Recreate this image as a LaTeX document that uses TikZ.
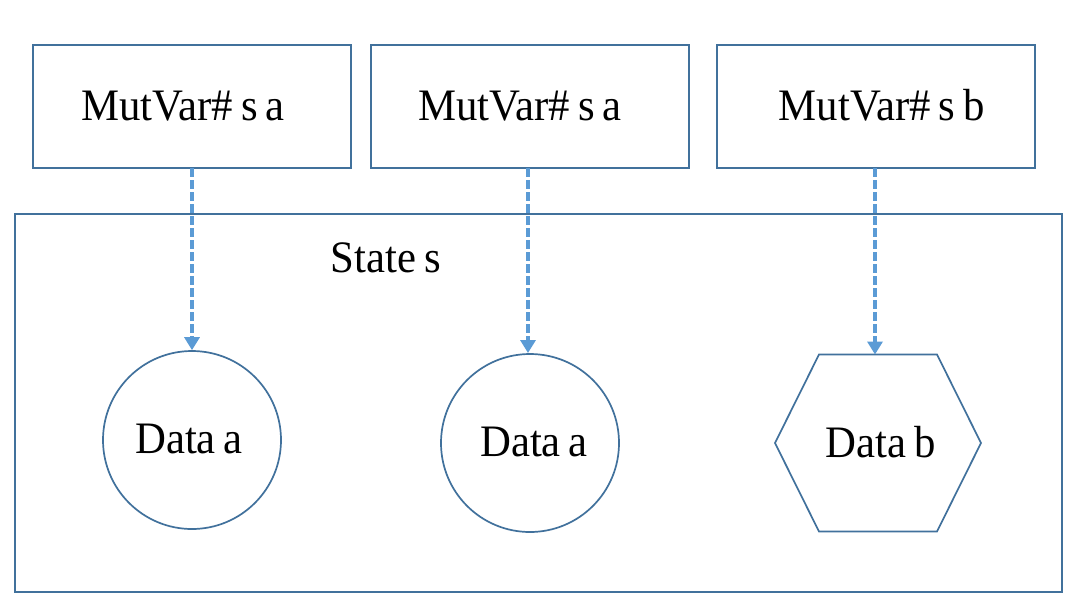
\documentclass[tikz,border=0pt]{standalone}
\usepackage{fontspec}
\setmainfont{Liberation Serif}
\newfontfamily\condfont[FakeStretch=0.95,WordSpace=0.75]{Liberation Serif}
\usetikzlibrary{arrows.meta,shapes.geometric}
\definecolor{boxblue}{HTML}{41719C}
\definecolor{arrblue}{HTML}{5B9BD5}
\tikzset{
  shp/.style={draw=boxblue,line width=1.7pt,fill=white,inner sep=0pt},
  lbl/.style={font=\condfont\fontsize{45}{45}\selectfont,inner sep=0pt,anchor=base},
  link/.style={draw=arrblue,line width=4pt,dash pattern=on 9pt off 3pt,
    -{Triangle[width=15pt,length=13pt]}}
}
\begin{document}
\begin{tikzpicture}[x=1pt,y=-1pt]
\useasboundingbox (0,0) rectangle (1074,606);
% outer state box
\node[shp,minimum width=1047pt,minimum height=378pt] (state) at (538.5,403) {};
\node[lbl] (statelbl) at (386,272) {State s};
% top boxes
\node[shp,minimum width=318pt,minimum height=123pt] (m1) at (192,106.5) {};
\node[shp,minimum width=318pt,minimum height=123pt] (m2) at (530,106.5) {};
\node[shp,minimum width=318pt,minimum height=123pt] (m3) at (876,106.5) {};
\node[lbl] (t1) at (183,120) {MutVar\# s a};
\node[lbl] (t2) at (520,120) {MutVar\# s a};
\node[lbl] (t3) at (882,120) {MutVar\# s b};
% data shapes
\node[shp,circle,minimum size=178pt] (d1) at (192,440) {};
\node[shp,circle,minimum size=178pt] (d2) at (530,443) {};
\node[lbl] (dt1) at (189,453) {Data a};
\node[lbl] (dt2) at (534,456) {Data a};
\draw[shp] (775,443) -- (819,354.5) -- (937,354.5) -- (981,443) -- (937,531.5) -- (819,531.5) -- cycle;
\coordinate (d3top) at (875,354.5);
\node[lbl] (dt3) at (881,457) {Data b};
% connectors
\draw[link] (192,168) coordinate (a1) -- (d1.north);
\draw[link] (528,168) coordinate (a2) -- (528,353);
\draw[link] (875,168) coordinate (a3) -- (d3top);
\end{tikzpicture}
\end{document}
